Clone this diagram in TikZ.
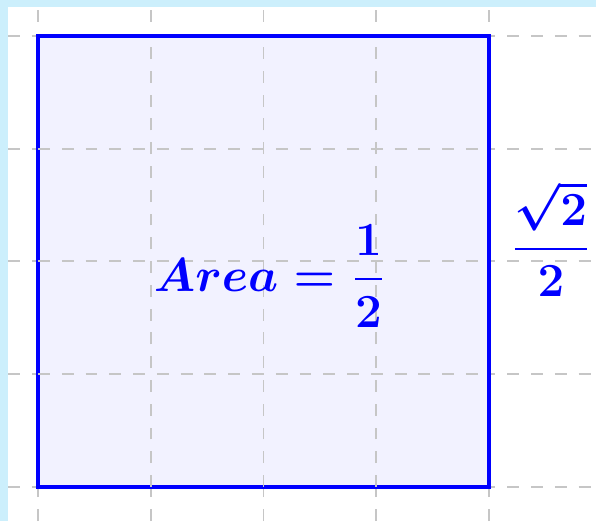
\documentclass[tikz,border=0pt]{standalone}
\usepackage{amsmath}
\tikzset{
	luoi/.style={gray!45, dashed, line width=0.5pt},
	hinhvuong/.style={blue, line width=1pt, fill=blue!5},
	nhan/.style={blue, font=\fontsize{11.8}{14}\selectfont\boldmath}
}
\begin{document}
\begin{tikzpicture}[line join=miter]
	% nền và khung
	\fill[cyan!20] (-0.337,-0.302) rectangle (4.949,4.319);
	\fill[white] (-0.266,-0.302) rectangle (4.949,4.257);
	\useasboundingbox (-0.337,-0.302) rectangle (4.949,4.319);
	% lưới
	\foreach \i in {0,...,4}{
		\draw[luoi] (-0.266,\i)--(4.949,\i);
		\draw[luoi] (\i,-0.302)--(\i,4.257);
	}
	% hình vuông
	\draw[hinhvuong] (0,0) rectangle (4,4);
	\draw[luoi] (1,0)--(1,4) (2,0)--(2,4) (3,0)--(3,4)
		(0,1)--(4,1) (0,2)--(4,2) (0,3)--(4,3);
	\node[nhan] (dientich) at (2.06,1.87) {$Area=\dfrac{1}{2}$};
	\node[nhan] (canh) at (4.55,2.2) {$\dfrac{\sqrt{2}}{2}$};
\end{tikzpicture}
\end{document}
